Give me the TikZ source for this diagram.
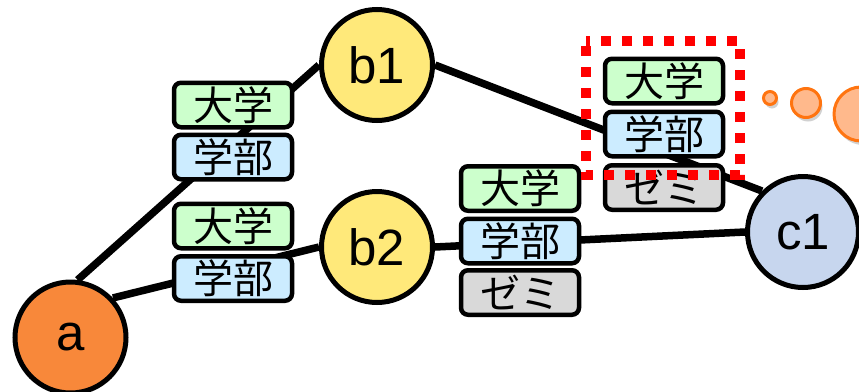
\documentclass[tikz,border=0pt]{standalone}
\usepackage{fontspec}
\setmainfont{Liberation Sans}
\newfontfamily\jp{Noto Sans CJK JP}
\usetikzlibrary{shadows}
\pgfdeclarelayer{bg}
\pgfsetlayers{bg,main}
\definecolor{aorange}{HTML}{F8883A}
\definecolor{byellow}{HTML}{FFE97A}
\definecolor{cblue}{HTML}{C7D6EE}
\definecolor{uni}{HTML}{CCFFCC}
\definecolor{dept}{HTML}{CCECFF}
\definecolor{semi}{HTML}{D9D9D9}
\definecolor{dotfill}{HTML}{FFB98C}
\definecolor{dotline}{HTML}{FF7410}
\tikzset{
  vert/.style={circle,draw=black,line width=5pt,minimum size=111pt,inner sep=0pt,font=\fontsize{51}{58}\selectfont},
  tag/.style={rectangle,rounded corners=7pt,draw=black,line width=4.5pt,minimum width=118pt,minimum height=44.5pt,inner sep=0pt,font=\jp\fontsize{40}{48}\selectfont},
  unitag/.style={tag,fill=uni},
  depttag/.style={tag,fill=dept},
  semitag/.style={tag,fill=semi},
  edge/.style={line width=7.5pt},
  dot/.style={circle,draw=dotline,fill=dotfill,line width=3pt,inner sep=0pt,drop shadow={shadow xshift=2pt,shadow yshift=-4pt,opacity=0.3,fill=black!60}},
  focus/.style={draw=red,line width=10pt,dash pattern=on 10pt off 11pt,dash phase=-5pt}
}
\begin{document}
\begin{tikzpicture}[x=1pt,y=-1pt]
\useasboundingbox (0,0) rectangle (859,391);
\clip (0,0) rectangle (859,391);
% vertices
\node[vert,fill=aorange] (a) at (70.5,337.5) {a};
\node[vert,fill=byellow] (b1) at (377,65) {b1};
\node[vert,fill=byellow] (b2) at (377,247) {b2};
\node[vert,fill=cblue] (c1) at (803,232) {c1};
% tags a-b1
\node[unitag] (t1u) at (233,105) {大学};
\node[depttag] (t1d) at (233,157) {学部};
% tags a-b2
\node[unitag] (t2u) at (233,226) {大学};
\node[depttag] (t2d) at (233,278.5) {学部};
% tags b2-c1
\node[unitag] (t3u) at (520,188.5) {大学};
\node[depttag] (t3d) at (520,241) {学部};
\node[semitag] (t3s) at (520,292.5) {ゼミ};
% tags b1-c1
\node[unitag] (t4u) at (664,81) {大学};
\node[depttag] (t4d) at (664,134) {学部};
\node[semitag] (t4s) at (664,187.5) {ゼミ};
% edges behind
\begin{pgfonlayer}{bg}
\draw[edge] (a.83) -- (b1.west);
\draw[edge] (a.43) -- (b2.west);
\draw[edge] (b1.east) -- (c1.135);
\draw[edge] (b2.east) -- (c1.west);
\end{pgfonlayer}
% highlight
\coordinate (f1) at (586,41);
\coordinate (f2) at (740,175);
\draw[focus] (f1) rectangle (f2);
% orange dots
\node[dot,minimum size=13pt] (d1) at (770,98) {};
\node[dot,minimum size=29pt] (d2) at (806,103) {};
\node[dot,minimum size=54pt] (d3) at (861,114) {};
\end{tikzpicture}
\end{document}
